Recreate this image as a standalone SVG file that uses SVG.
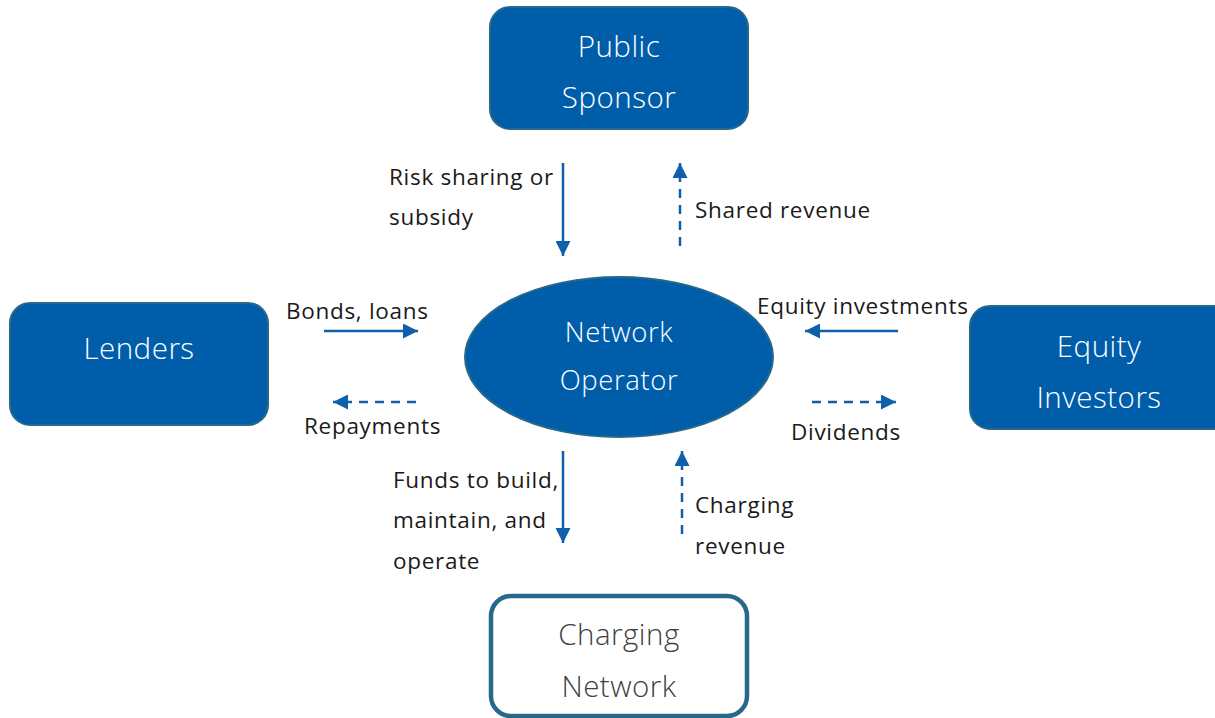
<svg xmlns="http://www.w3.org/2000/svg" width="1215" height="718" viewBox="0 0 1215 718">
<style>
.box{fill:#005DAA;stroke:#27698A;stroke-width:2}
.wbox{fill:#ffffff;stroke:#26698A;stroke-width:4.5}
.nt{font-family:"Open Sans","Noto Sans",sans-serif;font-weight:300;font-size:29.5px;letter-spacing:0.5px;fill:#ffffff;text-anchor:middle}
.ot{font-size:27.5px;letter-spacing:0.6px}
.dt{fill:#404040}
.lb{font-family:"Open Sans","Noto Sans",sans-serif;font-size:22.5px;letter-spacing:0.7px;fill:#1a1a1a}
.ln{stroke:#0F5FAA;stroke-width:2.5;fill:none}
.ds{stroke-dasharray:9 7}
</style>
<defs>
<marker id="ah" viewBox="0 0 10 10" refX="10" refY="5" markerWidth="6" markerHeight="6" markerUnits="strokeWidth" orient="auto">
<path d="M0,0 L10,5 L0,10 Z" fill="#0F5FAA"/>
</marker>
</defs>
<g id="public-sponsor">
<rect class="box" x="490" y="7" width="258" height="122" rx="20"/>
<text class="nt" x="619" y="57">Public</text>
<text class="nt" x="619" y="108">Sponsor</text>
</g>
<g id="lenders">
<rect class="box" x="10" y="303" width="258" height="122" rx="20"/>
<text class="nt" x="139" y="359">Lenders</text>
</g>
<g id="equity-investors">
<rect class="box" x="970" y="306" width="265" height="123" rx="20"/>
<text class="nt" x="1099" y="357">Equity</text>
<text class="nt" x="1099" y="408">Investors</text>
</g>
<g id="charging-network">
<rect class="wbox" x="491" y="596" width="256" height="120" rx="20"/>
<text class="nt dt" x="619" y="645">Charging</text>
<text class="nt dt" x="619" y="697">Network</text>
</g>
<g id="network-operator">
<ellipse cx="619" cy="357" rx="154" ry="80" fill="#005DAA" stroke="#27698A" stroke-width="2"/>
<text class="nt ot" x="619" y="342">Network</text>
<text class="nt ot" x="619" y="390">Operator</text>
</g>
<g id="connectors">
<line class="ln" x1="563" y1="163" x2="563" y2="256" marker-end="url(#ah)"/>
<line class="ln ds" x1="680" y1="246" x2="680" y2="163" marker-end="url(#ah)"/>
<line class="ln" x1="324" y1="331" x2="418" y2="331" marker-end="url(#ah)"/>
<line class="ln ds" x1="416" y1="402" x2="333" y2="402" marker-end="url(#ah)"/>
<line class="ln" x1="898" y1="331" x2="805" y2="331" marker-end="url(#ah)"/>
<line class="ln ds" x1="812" y1="402" x2="896" y2="402" marker-end="url(#ah)"/>
<line class="ln" x1="563" y1="451" x2="563" y2="543" marker-end="url(#ah)"/>
<line class="ln ds" x1="682" y1="534" x2="682" y2="451" marker-end="url(#ah)"/>
</g>
<g id="labels">
<text class="lb" x="389" y="185">Risk sharing or</text>
<text class="lb" x="389" y="225">subsidy</text>
<text class="lb" x="695" y="218">Shared revenue</text>
<text class="lb" x="286" y="319">Bonds, loans</text>
<text class="lb" x="304" y="434">Repayments</text>
<text class="lb" x="757" y="314">Equity investments</text>
<text class="lb" x="791" y="440">Dividends</text>
<text class="lb" x="393" y="488">Funds to build,</text>
<text class="lb" x="393" y="528">maintain, and</text>
<text class="lb" x="393" y="569">operate</text>
<text class="lb" x="695" y="513">Charging</text>
<text class="lb" x="695" y="554">revenue</text>
</g>
</svg>
